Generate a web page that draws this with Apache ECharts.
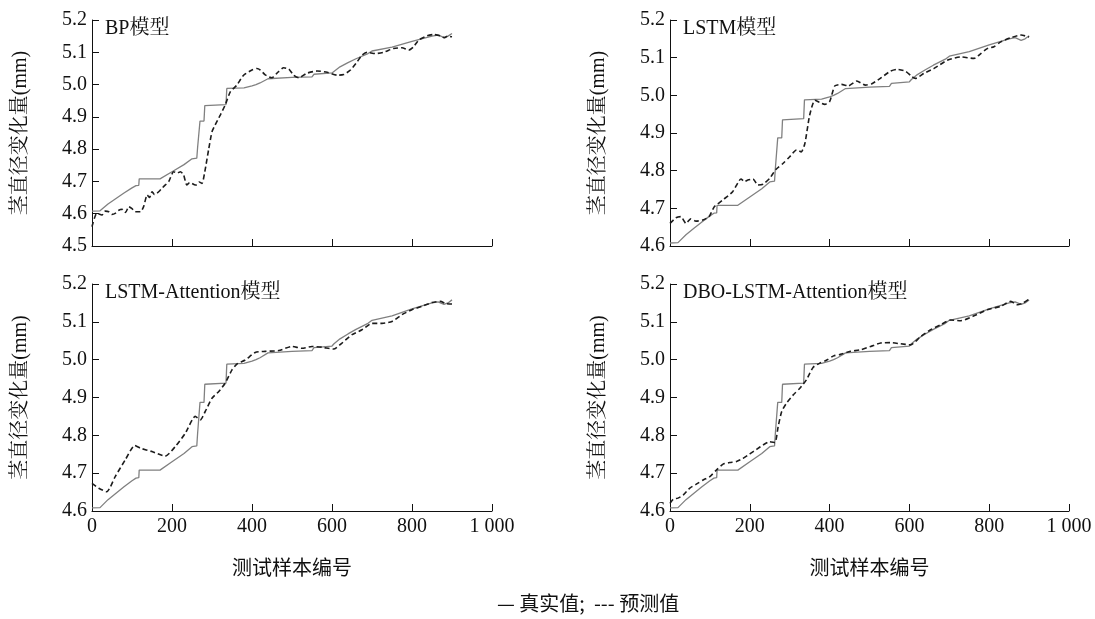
<!DOCTYPE html>
<html>
<head>
<meta charset="utf-8">
<script src="https://cdn.jsdelivr.net/npm/echarts@6/dist/echarts.min.js"></script>
<style>
html,body{margin:0;padding:0;background:#fff;}
#chart{width:1095px;height:619px;}
</style>
</head>
<body>
<div id="chart"></div>
<script>
// ---- data (sample index, stem diameter change in mm) ----
const panelTitles = ['BP模型', 'LSTM模型', 'LSTM-Attention模型', 'DBO-LSTM-Attention模型'];
const xTickLabels = ['0', '200', '400', '600', '800', '1 000'];
const yName = '茎直径变化量(mm)';
const xName = '测试样本编号';
const legendText = '— 真实值;  --- 预测值';

const actual = [
  [0,4.608],[20,4.609],[22,4.612],[40,4.630],[60,4.647],[80,4.664],[100,4.680],[110,4.687],[117,4.688],
  [118,4.708],[170,4.708],[175,4.712],[200,4.730],[230,4.752],[250,4.770],[262,4.772],[264,4.805],
  [268,4.810],[270,4.887],[280,4.887],[282,4.935],[286,4.938],[335,4.938],[337,4.988],[380,4.990],
  [400,4.996],[410,5.000],[420,5.005],[440,5.018],[500,5.022],[550,5.024],[555,5.032],[600,5.036],
  [605,5.042],[620,5.055],[640,5.068],[660,5.080],[690,5.096],[700,5.104],[750,5.116],[800,5.134],
  [850,5.150],[865,5.153],[880,5.146],[890,5.150],[900,5.158]
];

const predBP = [
  [0,4.560],[12,4.601],[25,4.596],[33,4.608],[42,4.606],[50,4.598],[58,4.601],[66,4.610],[75,4.614],
  [84,4.604],[92,4.622],[100,4.616],[108,4.606],[121,4.606],[129,4.622],[138,4.658],[144,4.650],
  [150,4.668],[156,4.660],[162,4.663],[170,4.672],[175,4.679],[184,4.690],[192,4.700],[204,4.730],
  [213,4.726],[221,4.730],[229,4.720],[237,4.689],[244,4.696],[250,4.694],[256,4.690],[262,4.689],
  [268,4.698],[275,4.694],[282,4.730],[292,4.802],[300,4.854],[308,4.875],[321,4.906],[333,4.937],
  [346,4.978],[362,4.998],[379,5.029],[400,5.045],[412,5.050],[421,5.045],[433,5.030],[450,5.021],
  [462,5.035],[479,5.052],[492,5.048],[504,5.029],[517,5.021],[537,5.035],[563,5.042],[588,5.038],
  [613,5.029],[629,5.031],[646,5.045],[663,5.071],[675,5.091],[688,5.100],[708,5.096],[729,5.100],
  [754,5.112],[775,5.114],[792,5.107],[804,5.117],[817,5.138],[838,5.151],[854,5.155],[871,5.151],
  [880,5.145],[890,5.150],[900,5.148]
];

const predLSTM = [
  [0,4.660],[15,4.675],[27,4.678],[40,4.660],[52,4.672],[65,4.666],[82,4.669],[98,4.678],[111,4.704],
  [132,4.722],[157,4.744],[178,4.778],[187,4.771],[195,4.775],[208,4.778],[220,4.762],[233,4.764],
  [250,4.780],[266,4.804],[283,4.819],[300,4.837],[317,4.855],[329,4.850],[338,4.872],[350,4.947],
  [363,4.987],[375,4.981],[388,4.976],[400,4.983],[413,5.025],[430,5.029],[447,5.025],[468,5.038],
  [490,5.027],[506,5.031],[527,5.045],[552,5.064],[569,5.069],[590,5.064],[607,5.049],[615,5.045],
  [636,5.058],[661,5.071],[695,5.093],[728,5.102],[762,5.098],[779,5.111],[795,5.124],[812,5.129],
  [829,5.142],[854,5.153],[880,5.160],[900,5.155]
];

const predLSTMAtt = [
  [0,4.673],[17,4.660],[37,4.651],[58,4.691],[83,4.735],[107,4.773],[121,4.766],[150,4.757],
  [183,4.745],[208,4.770],[233,4.805],[258,4.850],[271,4.841],[283,4.863],[300,4.898],[317,4.916],
  [333,4.938],[350,4.973],[363,4.989],[383,4.999],[408,5.019],[433,5.022],[467,5.024],[500,5.035],
  [525,5.030],[550,5.035],[575,5.033],[604,5.028],[625,5.044],[650,5.066],[675,5.079],[700,5.096],
  [725,5.096],[750,5.101],[775,5.119],[800,5.132],[825,5.141],[850,5.151],[871,5.154],[885,5.148],
  [900,5.147]
];

const predDBO = [
  [0,4.620],[8,4.631],[20,4.634],[33,4.642],[49,4.660],[66,4.671],[83,4.682],[100,4.691],[116,4.708],
  [133,4.724],[150,4.728],[167,4.731],[183,4.739],[200,4.751],[217,4.763],[234,4.775],[250,4.783],
  [263,4.781],[271,4.823],[280,4.863],[292,4.885],[309,4.907],[326,4.925],[342,4.947],[359,4.980],
  [376,4.991],[393,4.999],[410,5.010],[427,5.014],[452,5.022],[477,5.026],[503,5.035],[528,5.044],
  [553,5.045],[578,5.042],[603,5.039],[628,5.061],[653,5.079],[678,5.092],[703,5.105],[729,5.103],
  [762,5.116],[795,5.132],[829,5.141],[854,5.154],[871,5.145],[885,5.150],[900,5.160]
];

const predictions = [predBP, predLSTM, predLSTMAtt, predDBO];
const yMins = [4.5, 4.6, 4.6, 4.6];

// ---- layout ----
const grids = [
  {left: 92, top: 20, width: 400, height: 226},
  {left: 670, top: 20, width: 399, height: 226},
  {left: 92, top: 284, width: 400, height: 227},
  {left: 670, top: 284, width: 399, height: 227}
];
const SERIF = '"Times New Roman","Liberation Serif","Noto Serif CJK SC","Noto Sans CJK SC",serif';
const CJK = '"Noto Sans CJK SC","Liberation Serif",sans-serif';
const AX = '#111';

const option = {
  backgroundColor: '#fff',
  animation: false,
  grid: grids,
  title: panelTitles.map((t, i) => ({
    text: t,
    left: grids[i].left + 13,
    top: grids[i].top - 1,
    padding: 0,
    textStyle: {fontFamily: SERIF, fontSize: 20, fontWeight: 'normal', color: '#111'}
  })),
  xAxis: grids.map((g, i) => ({
    gridIndex: i, type: 'value', min: 0, max: 1000, interval: 200,
    name: i >= 2 ? xName : '', nameLocation: 'middle', nameGap: 46,
    nameTextStyle: {fontFamily: CJK, fontSize: 20, color: '#111'},
    axisLine: {show: true, onZero: false, lineStyle: {color: AX, width: 1}},
    axisTick: {show: true, inside: true, length: 7, lineStyle: {color: AX, width: 1}},
    axisLabel: {show: i >= 2, margin: 6, fontFamily: SERIF, fontSize: 20, color: '#111',
      formatter: (v, idx) => xTickLabels[Math.round(v / 200)]},
    splitLine: {show: false}
  })),
  yAxis: grids.map((g, i) => ({
    gridIndex: i, type: 'value', min: yMins[i], max: 5.2, interval: 0.1,
    name: yName, nameLocation: 'middle', nameGap: 61, nameRotate: 90,
    nameTextStyle: {fontFamily: SERIF, fontSize: 20, color: '#111'},
    axisLine: {show: true, onZero: false, lineStyle: {color: AX, width: 1}},
    axisTick: {show: true, inside: true, length: 7, lineStyle: {color: AX, width: 1}},
    axisLabel: {margin: 5, fontFamily: SERIF, fontSize: 20, color: '#111',
      formatter: v => v.toFixed(1)},
    splitLine: {show: false}
  })),
  series: [],
  graphic: [{
    type: 'text', left: 497, top: 593,
    style: {text: legendText, font: '20px "Noto Sans CJK SC", "Liberation Serif", sans-serif', fill: '#111'}
  }]
};

for (let i = 0; i < 4; i++) {
  option.series.push({
    name: '真实值', type: 'line', xAxisIndex: i, yAxisIndex: i, data: actual,
    showSymbol: false, symbol: 'none', silent: true,
    lineStyle: {color: '#808080', width: 1.3}
  });
  option.series.push({
    name: '预测值', type: 'line', xAxisIndex: i, yAxisIndex: i, data: predictions[i],
    showSymbol: false, symbol: 'none', silent: true, smooth: 0.2,
    lineStyle: {color: '#1c1c1c', width: 1.6, type: [5, 3]}
  });
}

const chart = echarts.init(document.getElementById('chart'), null, {renderer: 'canvas'});
chart.setOption(option);
</script>
</body>
</html>
